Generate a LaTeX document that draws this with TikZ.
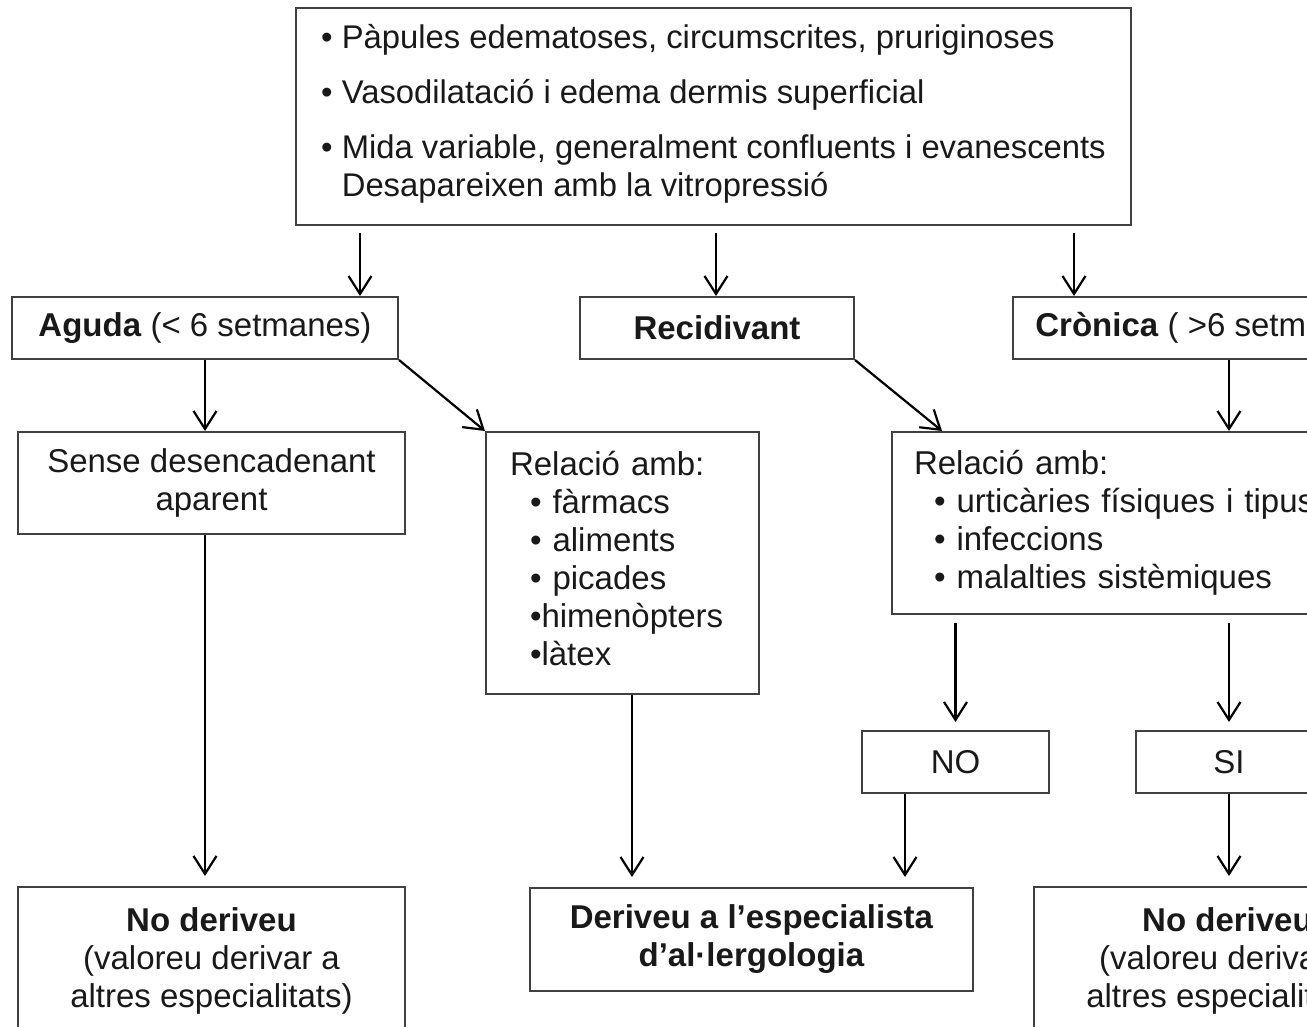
\documentclass[tikz,border=0pt]{standalone}
\usepackage{fontspec}
\setmainfont{Liberation Sans}
\usetikzlibrary{arrows.meta}

\begin{document}
\begin{tikzpicture}[
        x=0.5pt,
        y=-0.5pt,
        font=\fontsize{16.5pt}{19pt}\selectfont,
        flow-box/.style={
            draw=black!75,
            line width=1pt,
            inner sep=0pt,
            text=black!90,
        },
        box-step/.style={
            flow-box,
            minimum width=193pt,
            minimum height=31pt,
        },
        box-list/.style={
            flow-box,
            align=left,
            inner xsep=11pt,
        },
        box-end/.style={
            flow-box,
            align=center,
            minimum width=193.5pt,
            minimum height=74pt,
        },
        link/.style={
            line width=1.1pt,
            -{Straight Barb[length=9pt,width=11.5pt]},
        },
    ]

    % Picture frame.
    \useasboundingbox (0,0) rectangle (1307,1027);
    \clip (0,0) rectangle (1307,1027);

    % Description of the lesions.
    \node[flow-box, align=left, minimum width=417.5pt, minimum height=108.5pt,
        font=\fontsize{16.4pt}{19pt}\selectfont] (sintomes) at (713.5,116.5) {%
        \textbullet\ Pàpules edematoses, circumscrites, pruriginoses\\[8.5pt]
        \textbullet\ Vasodilatació i edema dermis superficial\\[8.5pt]
        \textbullet\ Mida variable, generalment confluents i evanescents\\
        \phantom{\textbullet\ }Desapareixen amb la vitropressió\\[-13pt]\mbox{}};

    % Types.
    \node[box-step] (aguda) at (205,328) {\textbf{Aguda} (< 6 setmanes)};
    \node[box-step, minimum width=137pt] (recidivant) at (717,328) {\textbf{Recidivant}};
    \node[box-step] (cronica) at (1206,328) {\hspace*{6pt}\textbf{Crònica} ( >6 setmanes)};

    % Causes.
    \node[flow-box, align=center, minimum width=193.5pt, minimum height=51pt] (sense) at (211.5,483) {Sense desencadenant\\aparent};
    \node[box-list, text width=112.5pt, inner xsep=12pt, minimum height=131pt] (relacio-aguda) at (622.5,563) {%
        Relació amb:\\
        \hspace*{10pt}\textbullet\ fàrmacs\\
        \hspace*{10pt}\textbullet\ aliments\\
        \hspace*{10pt}\textbullet\ picades\\
        \hspace*{10pt}\textbullet himenòpters\\
        \hspace*{10pt}\textbullet làtex\\[-14pt]\mbox{}};
    \node[box-list, text width=242pt, minimum height=91pt] (relacio-cronica) at (1156,523) {%
        Relació amb:\\
        \hspace*{10pt}\textbullet\ urticàries físiques i tipus\\
        \hspace*{10pt}\textbullet\ infeccions\\
        \hspace*{10pt}\textbullet\ malalties sistèmiques};
    \node[box-step, minimum width=93.5pt] (no) at (955.5,762) {NO};
    \node[box-step, minimum width=93.5pt] (si) at (1229,762) {SI};

    % Decisions.
    \node[box-end] (no-deriveu-aguda) at (211.5,961) {\textbf{No deriveu}\\(valoreu derivar a\\altres especialitats)};
    \node[box-end, minimum width=221.5pt, minimum height=51.5pt] (deriveu) at (751.5,939.5) {\textbf{Deriveu a l’especialista}\\\textbf{d’al·lergologia}};
    \node[box-end] (no-deriveu-cronica) at (1227.5,961) {\textbf{No deriveu}\\(valoreu derivar a\\altres especialitats)};

    % Columns of the arrows.
    \coordinate (c-aguda) at (360,0);
    \coordinate (c-recidivant) at (716,0);
    \coordinate (c-cronica) at (1074,0);
    \coordinate (c-recidiva) at (942,0);
    \coordinate (c-relacio) at (632,0);
    \coordinate (c-no) at (905,0);

    % Arrows.
    \foreach \col/\target in {c-aguda/aguda, c-recidivant/recidivant, c-cronica/cronica}
    \draw[link, shorten <=3.5pt] (sintomes.south -| \col) -- (\target.north -| \col);

    \draw[link] (aguda) -- (sense.north -| aguda.south);
    \draw[link] (aguda.south east) -- (relacio-aguda.north west);
    \draw[link] (recidivant.south east) -- (relacio-cronica.north -| c-recidiva);
    \draw[link] (cronica.south -| si) -- (relacio-cronica.north -| si);

    \draw[link, shorten <=4pt, shorten >=4pt] (relacio-cronica.south -| no) -- (no);
    \draw[link, shorten <=4pt, shorten >=4pt] (relacio-cronica.south -| si) -- (si);

    \draw[link, shorten >=5pt] (sense.south -| aguda.south) -- (no-deriveu-aguda.north -| aguda.south);
    \draw[link, shorten >=5pt] (relacio-aguda.south -| c-relacio) -- (deriveu.north -| c-relacio);
    \draw[link, shorten >=5pt] (no.south -| c-no) -- (deriveu.north -| c-no);
    \draw[link, shorten >=5pt] (si) -- (no-deriveu-cronica.north -| si);
\end{tikzpicture}
\end{document}
